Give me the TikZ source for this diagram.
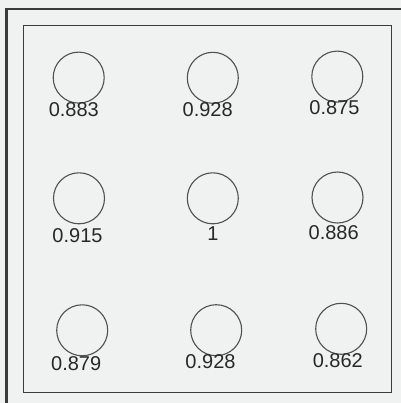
\documentclass[tikz,border=0pt]{standalone}
\usepackage{fontspec}
\setmainfont{Liberation Sans}
\definecolor{paper}{RGB}{240,241,241}
\definecolor{framegray}{RGB}{60,60,60}
\definecolor{ringgray}{RGB}{80,80,80}
\definecolor{textgray}{RGB}{40,40,40}
\tikzset{
    well/.style={circle, draw=ringgray, line width=1.1bp, minimum size=51bp, inner sep=0pt},
    score/.style={anchor=base, inner sep=0pt, text=textgray, font=\fontsize{20bp}{24bp}\selectfont}
}
\begin{document}
\begin{tikzpicture}[x=1bp, y=-1bp]
    % Background
    \fill[paper] (0,0) rectangle (401,403);
    \useasboundingbox (0,0) rectangle (401,403);

    % Frames
    \draw[framegray, line width=2bp] (6.5,403) -- (6.5,9) -- (401,9);
    \draw[framegray, line width=1.5bp] (23.5,25.5) rectangle (391.5,392.5);

    % Circles
    \node[well] (c11) at (78.7,77.6) {};
    \node[well] (c12) at (212.8,77.8) {};
    \node[well] (c13) at (337.3,76.6) {};
    \node[well] (c21) at (79.0,198.3) {};
    \node[well] (c22) at (212.8,198.3) {};
    \node[well] (c23) at (337.5,197.5) {};
    \node[well] (c31) at (82.2,330.3) {};
    \node[well] (c32) at (216.2,330.2) {};
    \node[well] (c33) at (341.2,328.8) {};

    % Labels
    \node[score] (s11) at (73.8,116.7) {0.883};
    \node[score] (s12) at (207.7,116.0) {0.928};
    \node[score] (s13) at (334.5,114.7) {0.875};
    \node[score] (s21) at (77.5,242.3) {0.915};
    \node[score] (s22) at (213.0,240.0) {1};
    \node[score] (s23) at (333.7,239.5) {0.886};
    \node[score] (s31) at (76.2,370.7) {0.879};
    \node[score] (s32) at (210.5,368.3) {0.928};
    \node[score] (s33) at (337.8,367.7) {0.862};
\end{tikzpicture}
\end{document}
